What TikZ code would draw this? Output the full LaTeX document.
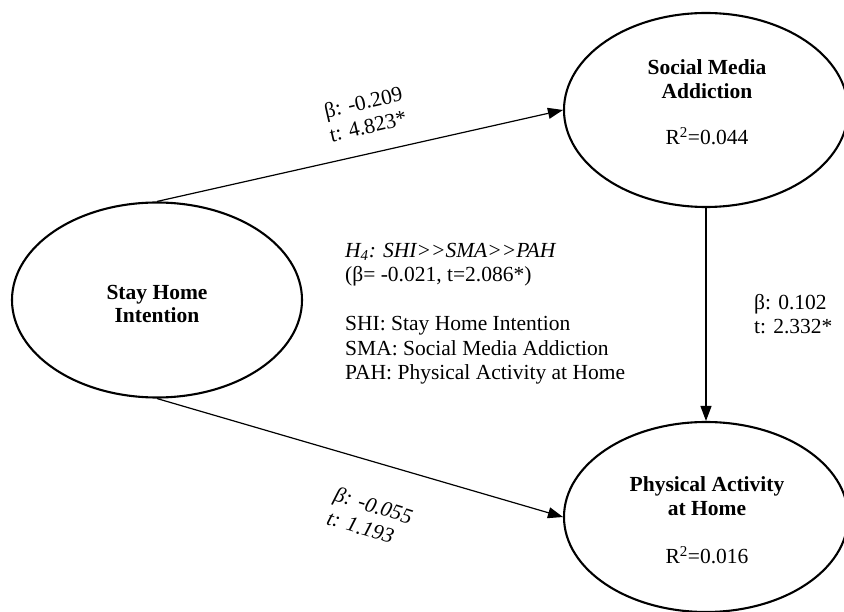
\documentclass[tikz,border=0pt]{standalone}
\usepackage{fontspec}
\setmainfont{Liberation Serif}
\usetikzlibrary{arrows.meta,calc,shapes.geometric}
\tikzset{
  latent/.style={draw,ellipse,line width=2.1pt,inner sep=0pt},
  arr/.style={line width=1.2pt,-{Triangle[length=15pt,width=11pt]}},
  txt/.style={inner sep=0pt,font=\fontsize{21.5}{24.5}\selectfont},
  btxt/.style={txt,align=center,font=\fontsize{21.5}{23.5}\selectfont\bfseries},
}
\begin{document}
\begin{tikzpicture}[x=1pt,y=-1pt]
\useasboundingbox (0,0) rectangle (844,612);
\node[latent,minimum width=290pt,minimum height=195pt] (shi) at (157,300) {};
\node[latent,minimum width=284pt,minimum height=194pt] (sma) at (706,110) {};
\node[latent,minimum width=284pt,minimum height=190pt] (pah) at (706,517) {};
\node[btxt] (shit) at (157,304) {Stay Home\\Intention};
\node[btxt] (smat) at (707,79) {Social Media\\Addiction};
\node[txt] (smar) at (707,136) {R\textsuperscript{2}=0.044};
\node[btxt] (paht) at (707,496) {Physical Activity\\at Home};
\node[txt] (pahr) at (707,555) {R\textsuperscript{2}=0.016};
\draw[arr] (shi.north) -- (sma.west);
\draw[arr] (shi.south) -- (pah.west);
\draw[arr] (sma.south) -- (pah.north);
\node[txt,align=left,rotate=13] (l1) at (366,114) {β: -0.209\\t: 4.823*};
\node[txt,align=left,rotate=-17,font=\fontsize{21.5}{24.5}\selectfont\itshape] (l2) at (370,517) {β: -0.055\\t: 1.193};
\node[txt,align=left,anchor=west] (l3) at (754,314) {β: 0.102\\t: 2.332*};
\node[txt,align=left,anchor=north west] (mid) at (345,243) {\textit{H\textsubscript{4}: SHI>{}>SMA>{}>PAH}\\(β= -0.021, t=2.086*)\\[24.5pt]SHI: Stay Home Intention\\SMA: Social Media Addiction\\PAH: Physical Activity at Home};
\end{tikzpicture}
\end{document}
